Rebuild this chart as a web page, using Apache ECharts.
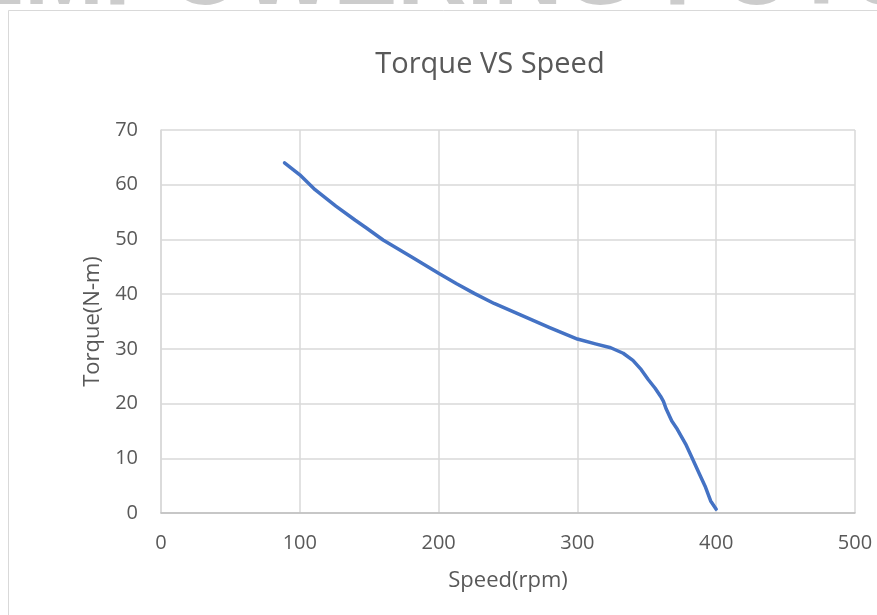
<!DOCTYPE html>
<html>
<head>
<meta charset="utf-8">
<script src="https://cdn.jsdelivr.net/npm/echarts@6/dist/echarts.min.js"></script>
<style>html,body{margin:0;padding:0;background:#fff;}#c{width:877px;height:615px;}</style>
</head>
<body>
<div id="c"></div>
<script>
const speed = [89, 100, 111, 126, 140, 148, 160, 180, 200, 213, 226, 240, 259, 280, 300, 313, 324, 333, 340, 346, 351, 356, 360, 362, 364, 368, 372, 378, 382, 388, 392, 396, 400];
const torque = [64, 61.8, 59.1, 56.1, 53.5, 52.1, 49.9, 46.9, 43.8, 41.9, 40.1, 38.3, 36.2, 33.9, 31.8, 30.9, 30.2, 29.2, 27.9, 26.2, 24.4, 22.8, 21.3, 20.4, 19, 16.8, 15.3, 12.6, 10.4, 7.1, 4.9, 2.2, 0.7];
const xTicks = [0, 100, 200, 300, 400, 500];
const yTicks = [0, 10, 20, 30, 40, 50, 60, 70];

const chart = echarts.init(document.getElementById('c'), null, {renderer: 'canvas'});
const font = '"Open Sans", Calibri, sans-serif';
chart.setOption({
  animation: false,
  backgroundColor: '#fff',
  title: {
    text: 'Torque VS Speed', left: 485, top: 45, textAlign: 'center', z: 10,
    textStyle: {color: '#595959', fontSize: 29, fontWeight: 'normal', fontFamily: font}
  },
  graphic: [
    {type: 'text', z: -2, left: -40, top: -70,
     style: {text: 'EMPOWERING FUTURE', fill: '#cccccc', font: 'bold 96px "Liberation Sans", sans-serif'}},
    {type: 'rect', z: -1, shape: {x: 8.5, y: 10.5, width: 900, height: 700},
     style: {fill: '#fff', stroke: '#d9d9d9', lineWidth: 1}}
  ],
  grid: {left: 161, right: 22, top: 130, bottom: 102, containLabel: false},
  xAxis: {
    type: 'value', min: xTicks[0], max: xTicks[xTicks.length - 1], interval: 100, z: 5,
    name: 'Speed(rpm)', nameLocation: 'middle', nameGap: 57,
    nameTextStyle: {color: '#595959', fontSize: 22, fontFamily: font},
    axisLine: {show: true, lineStyle: {color: '#bfbfbf', width: 1.5}},
    axisTick: {show: false},
    axisLabel: {color: '#595959', fontSize: 20, fontFamily: font, margin: 20},
    splitLine: {show: true, lineStyle: {color: '#d9d9d9', width: 1.5}}
  },
  yAxis: {
    type: 'value', min: yTicks[0], max: yTicks[yTicks.length - 1], interval: 10, z: 5,
    name: 'Torque(N-m)', nameLocation: 'middle', nameGap: 56, nameRotate: 90,
    nameTextStyle: {color: '#595959', fontSize: 22, fontFamily: font},
    axisLine: {show: true, lineStyle: {color: '#d9d9d9', width: 1.5}},
    axisTick: {show: false},
    axisLabel: {color: '#595959', fontSize: 20, fontFamily: font, margin: 23},
    splitLine: {show: true, lineStyle: {color: '#d9d9d9', width: 1.5}}
  },
  series: [{
    type: 'line', data: speed.map((s, i) => [s, torque[i]]), z: 6,
    showSymbol: false, smooth: false,
    lineStyle: {color: '#4472c4', width: 3.5, cap: 'round', join: 'round'}, itemStyle: {color: '#4472c4'}
  }]
});
</script>
</body>
</html>
